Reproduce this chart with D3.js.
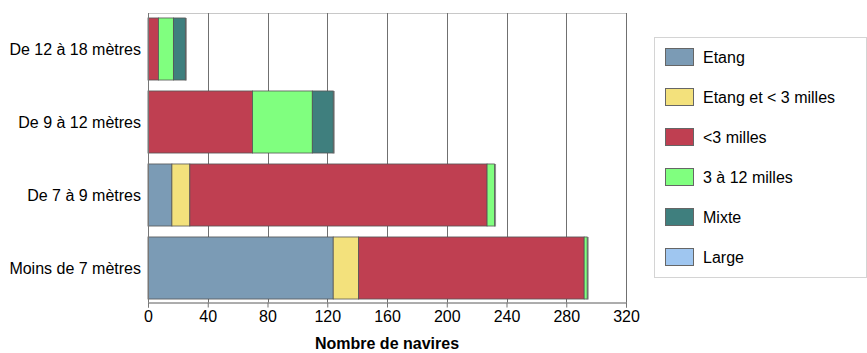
<!DOCTYPE html>
<html>
<head>
<meta charset="utf-8">
<script src="https://cdn.jsdelivr.net/npm/d3@7"></script>
<style>
	body { margin: 0; background: #fff; }
	svg { display: block; font-family: "Liberation Sans", Arial, sans-serif; }
</style>
</head>
<body>
<div class="container"></div>
<script>
var categories = ["De 12 à 18 mètres", "De 9 à 12 mètres", "De 7 à 9 mètres", "Moins de 7 mètres"];
var seriesNames = ["Etang", "Etang et < 3 milles", "<3 milles", "3 à 12 milles", "Mixte", "Large"];
var seriesColors = ["#7b9bb5", "#f3e17c", "#bf3f51", "#80ff7f", "#3f7f7e", "#9fc6f0"];
// one array per series, in category order
var etang = [0, 0, 16, 124];
var etangMoins3 = [0, 0, 12, 17];
var moins3 = [7, 70, 199, 151];
var de3a12 = [10, 40, 5, 2];
var mixte = [8, 14, 0, 0];
var large = [0, 0, 0, 0];
var xTicks = [0, 40, 80, 120, 160, 200, 240, 280, 320];
var xTitle = "Nombre de navires";

var charter = function () {
	var width = 867, height = 353;
	var left = 148, right = 626, top = 13, bottom = 302.5;
	var fontSize = 16;

	var init = function () {
		var paper = d3.select('.container').append("svg")
			.attr("width", width)
			.attr("height", height);

		var series = [etang, etangMoins3, moins3, de3a12, mixte, large];
		var rows = categories.map(function (c, i) {
			var row = { cat: c };
			seriesNames.forEach(function (s, j) { row[s] = series[j][i]; });
			return row;
		});
		var stacked = d3.stack().keys(seriesNames)(rows);

		var x = d3.scaleLinear().domain([0, 320]).range([left, right]);
		var y = d3.scaleBand().domain(categories).range([12.5, 304.5]).paddingInner(0.15).paddingOuter(0.075);

		// plot frame
		paper.append('rect')
			.attr('x', left + 0.5).attr('y', top + 0.5)
			.attr('width', right - left).attr('height', bottom - top)
			.attr('fill', 'none').attr('stroke', '#c8c8c8');

		// grid
		paper.append('g').selectAll('line')
			.data(xTicks.slice(1))
			.enter().append('line')
			.attr('x1', function (d) { return Math.round(x(d)) + 0.5; })
			.attr('x2', function (d) { return Math.round(x(d)) + 0.5; })
			.attr('y1', top).attr('y2', bottom)
			.attr('stroke', '#707070');

		// right shadow of each bar
		paper.append('g').selectAll('rect')
			.data(rows)
			.enter().append('rect')
			.attr('x', function (d) {
				var tot = d3.sum(seriesNames, function (s) { return d[s]; });
				return x(tot) - 0.5;
			})
			.attr('y', function (d) { return y(d.cat); })
			.attr('width', 2)
			.attr('height', y.bandwidth() + 0.5)
			.attr('fill', '#8e8e8e');

		// bars
		var layers = paper.append('g').selectAll('g')
			.data(stacked)
			.enter().append('g')
			.attr('fill', function (d, i) { return seriesColors[i]; });

		layers.selectAll('rect')
			.data(function (d) { return d.filter(function (p) { return p[1] > p[0]; }); })
			.enter().append('rect')
			.attr('x', function (d) { return x(d[0]); })
			.attr('y', function (d) { return y(d.data.cat); })
			.attr('width', function (d) { return x(d[1]) - x(d[0]); })
			.attr('height', y.bandwidth())
			.attr('stroke', '#555')
			.attr('stroke-width', 0.8);

		// x axis
		var xAxis = paper.append('g')
			.attr('transform', 'translate(0,' + bottom + ')')
			.call(d3.axisBottom(x).tickValues(xTicks).tickSize(5).tickPadding(3).tickFormat(d3.format('d')));
		xAxis.select('.domain').attr('stroke', '#777');
		xAxis.selectAll('.tick line').attr('stroke', '#777');
		xAxis.selectAll('text').attr('font-size', fontSize).attr('fill', '#000')
			.attr('font-family', '"Liberation Sans", Arial, sans-serif');

		// y axis line
		paper.append('line')
			.attr('x1', left + 0.5).attr('x2', left + 0.5)
			.attr('y1', top).attr('y2', bottom)
			.attr('stroke', '#777');

		// y labels
		paper.append('g').selectAll('text')
			.data(categories)
			.enter().append('text')
			.attr('x', 141)
			.attr('y', function (d) { return y(d) + y.bandwidth() / 2; })
			.attr('dy', '0.35em')
			.attr('text-anchor', 'end')
			.attr('font-size', fontSize)
			.text(function (d) { return d; });

		// x title
		paper.append('text')
			.attr('x', 387)
			.attr('y', 353)
			.attr('dy', '-0.22em')
			.attr('text-anchor', 'middle')
			.attr('font-size', fontSize)
			.attr('font-weight', 'bold')
			.text(xTitle);

		// legend
		var legend = paper.append('g');
		legend.append('rect')
			.attr('x', 654.5).attr('y', 37.5)
			.attr('width', 212).attr('height', 240)
			.attr('fill', '#fff').attr('stroke', '#d4d4d4');

		var items = legend.selectAll('g.item')
			.data(seriesNames)
			.enter().append('g')
			.attr('class', 'item')
			.attr('transform', function (d, i) { return 'translate(665,' + (48 + i * 40) + ')'; });

		items.append('rect')
			.attr('x', 0.5).attr('y', 0.5)
			.attr('width', 28).attr('height', 17)
			.attr('fill', function (d, i) { return seriesColors[i]; })
			.attr('stroke', '#666');

		items.append('text')
			.attr('x', 38)
			.attr('y', 9)
			.attr('dy', '0.35em')
			.attr('font-size', fontSize)
			.text(function (d) { return d; });
	};

	return Object.freeze({ init: init });
};

var c = charter();
c.init();
</script>
</body>
</html>
